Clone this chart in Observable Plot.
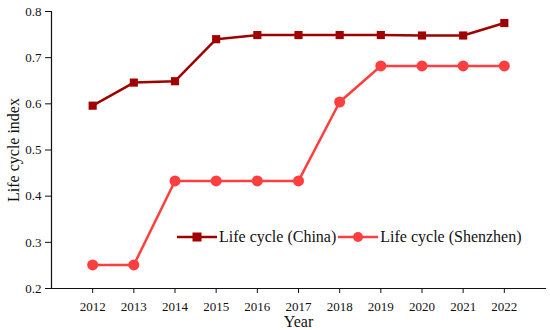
<!DOCTYPE html>
<html>
<head>
<meta charset="utf-8">
<script src="https://cdn.jsdelivr.net/npm/d3@7"></script>
<script src="https://cdn.jsdelivr.net/npm/@observablehq/plot@0.6"></script>
<style>
  html, body { margin: 0; padding: 0; background: #fff; }
  #wrap { position: relative; width: 550px; height: 330px; font-family: "Liberation Serif", "Times New Roman", serif; }
  #legend { position: absolute; left: 176px; top: 228px; display: flex; align-items: center; font-size: 16px; color: #111; white-space: nowrap; }
  #legend .item { display: flex; align-items: center; }
  #legend svg { display: block; }
  #chart svg text { font-family: "Liberation Serif", "Times New Roman", serif; }
</style>
</head>
<body>
<div id="wrap"><div id="chart"></div><div id="legend"></div></div>
<script>
const years = [2012, 2013, 2014, 2015, 2016, 2017, 2018, 2019, 2020, 2021, 2022];
const chinaValues = [0.596, 0.646, 0.649, 0.740, 0.749, 0.749, 0.749, 0.749, 0.748, 0.748, 0.775];
const shenzhenValues = [0.251, 0.251, 0.433, 0.433, 0.433, 0.433, 0.604, 0.682, 0.682, 0.682, 0.682];
const seriesNames = ["Life cycle (China)", "Life cycle (Shenzhen)"];
const seriesColors = ["#a00000", "#ff3f3f"];
const yTicks = [0.2, 0.3, 0.4, 0.5, 0.6, 0.7, 0.8];

const china = years.map((y, i) => ({year: y, value: chinaValues[i]}));
const shenzhen = years.map((y, i) => ({year: y, value: shenzhenValues[i]}));

const chart = Plot.plot({
  width: 550,
  height: 330,
  marginLeft: 51,
  marginRight: 5,
  marginTop: 11,
  marginBottom: 42,
  style: {fontFamily: "'Liberation Serif', 'Times New Roman', serif", fontSize: "13px", color: "#111", background: "#fff"},
  x: {domain: [2011, 2023]},
  y: {domain: [0.2, 0.8]},
  marks: [
    Plot.axisX({ticks: years, tickFormat: d => String(d), tickSize: 5, tickPadding: 8, label: "Year", labelAnchor: "center", labelArrow: "none", labelOffset: 38}),
    Plot.axisY({ticks: yTicks, tickFormat: d => d.toFixed(1), tickSize: 6, tickPadding: 4, label: "Life cycle index", labelAnchor: "center", labelArrow: "none", labelOffset: 44}),
    Plot.frame({anchor: "left", stroke: "#111", strokeWidth: 1.2}),
    Plot.frame({anchor: "bottom", stroke: "#111", strokeWidth: 1.2}),
    Plot.line(shenzhen, {x: "year", y: "value", stroke: seriesColors[1], strokeWidth: 2.5}),
    Plot.dot(shenzhen, {x: "year", y: "value", fill: seriesColors[1], r: 5.5, symbol: "circle"}),
    Plot.line(china, {x: "year", y: "value", stroke: seriesColors[0], strokeWidth: 2.5}),
    Plot.dot(china, {x: "year", y: "value", fill: seriesColors[0], r: 4.6, symbol: "square"})
  ]
});
document.getElementById("chart").appendChild(chart);
const sel = d3.select(chart);
sel.selectAll("g[aria-label='x-axis label'], g[aria-label='y-axis label']").attr("font-size", 16).style("font-size", "16px");
sel.selectAll("g[aria-label='x-axis label'] text, g[aria-label='y-axis label'] text").style("font-size", "16px");

const legend = d3.select("#legend");
seriesNames.forEach((name, i) => {
  const item = legend.append("div").attr("class", "item");
  const s = item.append("svg").attr("width", 42).attr("height", 14);
  s.append("line").attr("x1", 1).attr("x2", 41).attr("y1", 7).attr("y2", 7).attr("stroke", seriesColors[i]).attr("stroke-width", 2.5);
  if (i === 0) s.append("rect").attr("x", 16.5).attr("y", 2.5).attr("width", 9).attr("height", 9).attr("fill", seriesColors[i]);
  else s.append("circle").attr("cx", 21).attr("cy", 7).attr("r", 5).attr("fill", seriesColors[i]);
  item.append("span").text(name).style("margin-left", "1px").style("margin-right", "1px");
});
</script>
</body>
</html>
